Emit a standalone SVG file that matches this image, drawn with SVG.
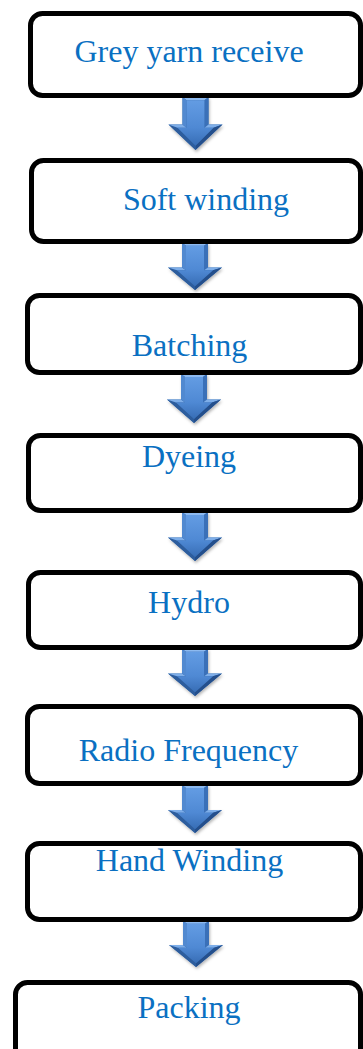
<svg xmlns="http://www.w3.org/2000/svg" width="363" height="1049" viewBox="0 0 363 1049">
  <style>
    .box { fill: #ffffff; stroke: #000000; stroke-width: 5; }
    .label { font-family: "Liberation Serif", "Times New Roman", serif; font-size: 32px; fill: #0A70C2; text-anchor: middle; }
  </style>
  <defs>
    <linearGradient id="faceGrad" x1="0" y1="0" x2="0" y2="1">
      <stop offset="0" stop-color="#639ce3"/>
      <stop offset="0.6" stop-color="#4f89d4"/>
      <stop offset="1" stop-color="#376db5"/>
    </linearGradient>
    <filter id="shadow" x="-30%" y="-30%" width="160%" height="160%">
      <feDropShadow dx="1" dy="2" stdDeviation="1.5" flood-color="#000" flood-opacity="0.3"/>
    </filter>
    <!-- bevelled block arrow, 50 units tall, pointing down -->
    <g id="arrow">
      <path d="M-13,0 H13 V26 H27 L0,50 L-27,26 H-13 Z" fill="#2f62a6" filter="url(#shadow)"/>
      <polygon points="-13,0 13,0 9,3 -9,3" fill="#8dbaf0"/>
      <polygon points="13,0 13,26 9,29 9,3" fill="#3a70b8"/>
      <polygon points="13,26 27,26 18,29 9,29" fill="#7eaee9"/>
      <polygon points="27,26 0,50 0,46 18,29" fill="#244f8c"/>
      <polygon points="0,50 -27,26 -18,29 0,46" fill="#2d5d9d"/>
      <polygon points="-27,26 -13,26 -9,29 -18,29" fill="#7eaee9"/>
      <polygon points="-13,26 -13,0 -9,3 -9,29" fill="#5189d0"/>
      <path d="M-9,3 H9 V29 H18 L0,46 L-18,29 H-9 Z" fill="url(#faceGrad)"/>
    </g>
  </defs>

  <g id="connectors">
    <use href="#arrow" transform="translate(195.5,97) scale(1,1.06)"/>
    <use href="#arrow" transform="translate(195,243) scale(1,0.94)"/>
    <use href="#arrow" transform="translate(194,374) scale(1,0.98)"/>
    <use href="#arrow" transform="translate(195,512) scale(1,0.98)"/>
    <use href="#arrow" transform="translate(195,649) scale(1,0.94)"/>
    <use href="#arrow" transform="translate(195,785) scale(1,0.96)"/>
    <use href="#arrow" transform="translate(196,921) scale(1,0.92)"/>
  </g>

  <g id="node-grey-yarn">
    <rect class="box" x="30.5" y="13.5" width="330" height="82" rx="12"/>
    <text class="label" x="189" y="62">Grey yarn receive</text>
  </g>
  <g id="node-soft-winding">
    <rect class="box" x="31.5" y="160.5" width="329" height="81" rx="12"/>
    <text class="label" x="206" y="210">Soft winding</text>
  </g>
  <g id="node-batching">
    <rect class="box" x="27.5" y="295.5" width="333" height="77" rx="12"/>
    <text class="label" x="189.5" y="356">Batching</text>
  </g>
  <g id="node-dyeing">
    <rect class="box" x="28.5" y="435.5" width="332" height="75" rx="12"/>
    <text class="label" x="189" y="467">Dyeing</text>
  </g>
  <g id="node-hydro">
    <rect class="box" x="28.5" y="572.5" width="332" height="75" rx="12"/>
    <text class="label" x="189" y="613">Hydro</text>
  </g>
  <g id="node-radio-frequency">
    <rect class="box" x="27.5" y="706.5" width="333" height="77" rx="12"/>
    <text class="label" x="188.5" y="761">Radio Frequency</text>
  </g>
  <g id="node-hand-winding">
    <rect class="box" x="27.5" y="843.5" width="333" height="76" rx="12"/>
    <text class="label" x="189.5" y="871">Hand Winding</text>
  </g>
  <g id="node-packing">
    <rect class="box" x="15.5" y="982.5" width="345" height="90" rx="12"/>
    <text class="label" x="189" y="1018">Packing</text>
  </g>
</svg>
